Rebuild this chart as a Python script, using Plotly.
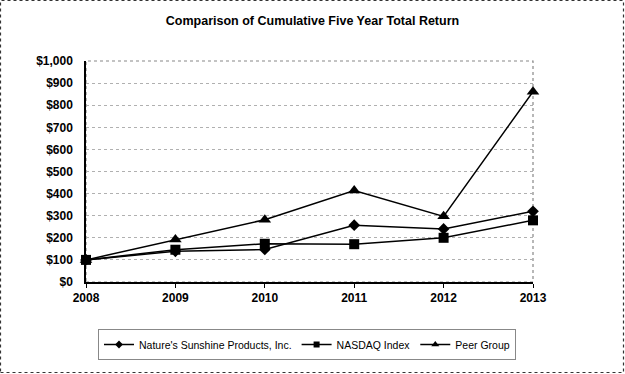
import plotly.graph_objects as go

years = [2008, 2009, 2010, 2011, 2012, 2013]
natures = [100, 139, 147, 257, 240, 320]
nasdaq = [100, 146, 173, 171, 200, 279]
peer = [100, 192, 282, 414, 297, 861]
y_ticks = list(range(0, 1001, 100))
y_labels = ["$0", "$100", "$200", "$300", "$400", "$500", "$600", "$700", "$800", "$900", "$1,000"]

W, H = 625, 374
L, R, T, B = 86, 533, 61, 282
FONT = "Liberation Sans, Arial, sans-serif"

fig = go.Figure()
series = [
    ("Nature's Sunshine Products, Inc.", natures, "diamond", 9, 6),
    ("NASDAQ Index", nasdaq, "square", 10, 6),
    ("Peer Group", peer, "triangle-up", 11, 7),
]
for name, vals, sym, sz, lsz in series:
    fig.add_trace(go.Scatter(
        x=years, y=vals, name=name, mode="lines+markers",
        line=dict(color="black", width=1.5),
        marker=dict(symbol=sym, size=sz, color="black"),
        cliponaxis=False, showlegend=False,
    ))
for name, vals, sym, sz, lsz in series:
    fig.add_trace(go.Scatter(
        x=[None], y=[None], name=name, mode="lines+markers",
        line=dict(color="black", width=1.5),
        marker=dict(symbol=sym, size=lsz, color="black"),
        showlegend=True,
    ))

def px(x):
    return (x - L) / (R - L)

def py(y):
    return (B - y) / (B - T)

shapes = [
    dict(type="rect", xref="paper", yref="paper",
         x0=px(0.5), x1=px(W - 1.5), y0=py(H - 1.5), y1=py(0.5),
         line=dict(color="#333333", width=1.2, dash="dot"), layer="below"),
    dict(type="rect", xref="paper", yref="paper",
         x0=0, x1=1, y0=0, y1=1,
         line=dict(color="#888888", width=1.2, dash="dot"), layer="below"),
]

fig.update_layout(
    width=W, height=H,
    margin=dict(l=L, r=W - R, t=T, b=H - B, pad=0),
    paper_bgcolor="white", plot_bgcolor="white",
    font=dict(family=FONT, color="black", size=11),
    title=dict(text="Comparison of Cumulative Five Year Total Return",
               x=0.5, xanchor="center", y=1 - 21 / H, yanchor="middle",
               xref="container", yref="container",
               font=dict(family=FONT, size=12.5, weight="bold", color="black")),
    showlegend=True,
    legend=dict(orientation="h", x=px(307), xanchor="center", y=py(329), yanchor="top",
                bordercolor="#888888", borderwidth=1, bgcolor="white",
                font=dict(family=FONT, size=10.5, color="black"),
                itemsizing="trace", tracegroupgap=0),
    shapes=shapes,
)
fig.update_xaxes(
    range=[2008, 2013], tickvals=years, ticktext=[str(y) for y in years],
    showgrid=False, zeroline=False,
    showline=True, linecolor="black", linewidth=1.5,
    ticks="outside", ticklen=4, tickcolor="black", tickwidth=1,
    tickfont=dict(family=FONT, size=12, weight="bold", color="black"),
)
fig.update_yaxes(
    range=[0, 1000], tickvals=y_ticks, ticktext=y_labels,
    showgrid=True, gridcolor="#b0b0b0", griddash="dot", gridwidth=1,
    zeroline=False,
    showline=True, linecolor="black", linewidth=1.5,
    ticks="", ticklabelstandoff=9,
    tickfont=dict(family=FONT, size=12, weight="bold", color="black"),
)

fig.write_html("out.html", config={"displayModeBar": False},
               post_script="document.body.style.margin='0';")
